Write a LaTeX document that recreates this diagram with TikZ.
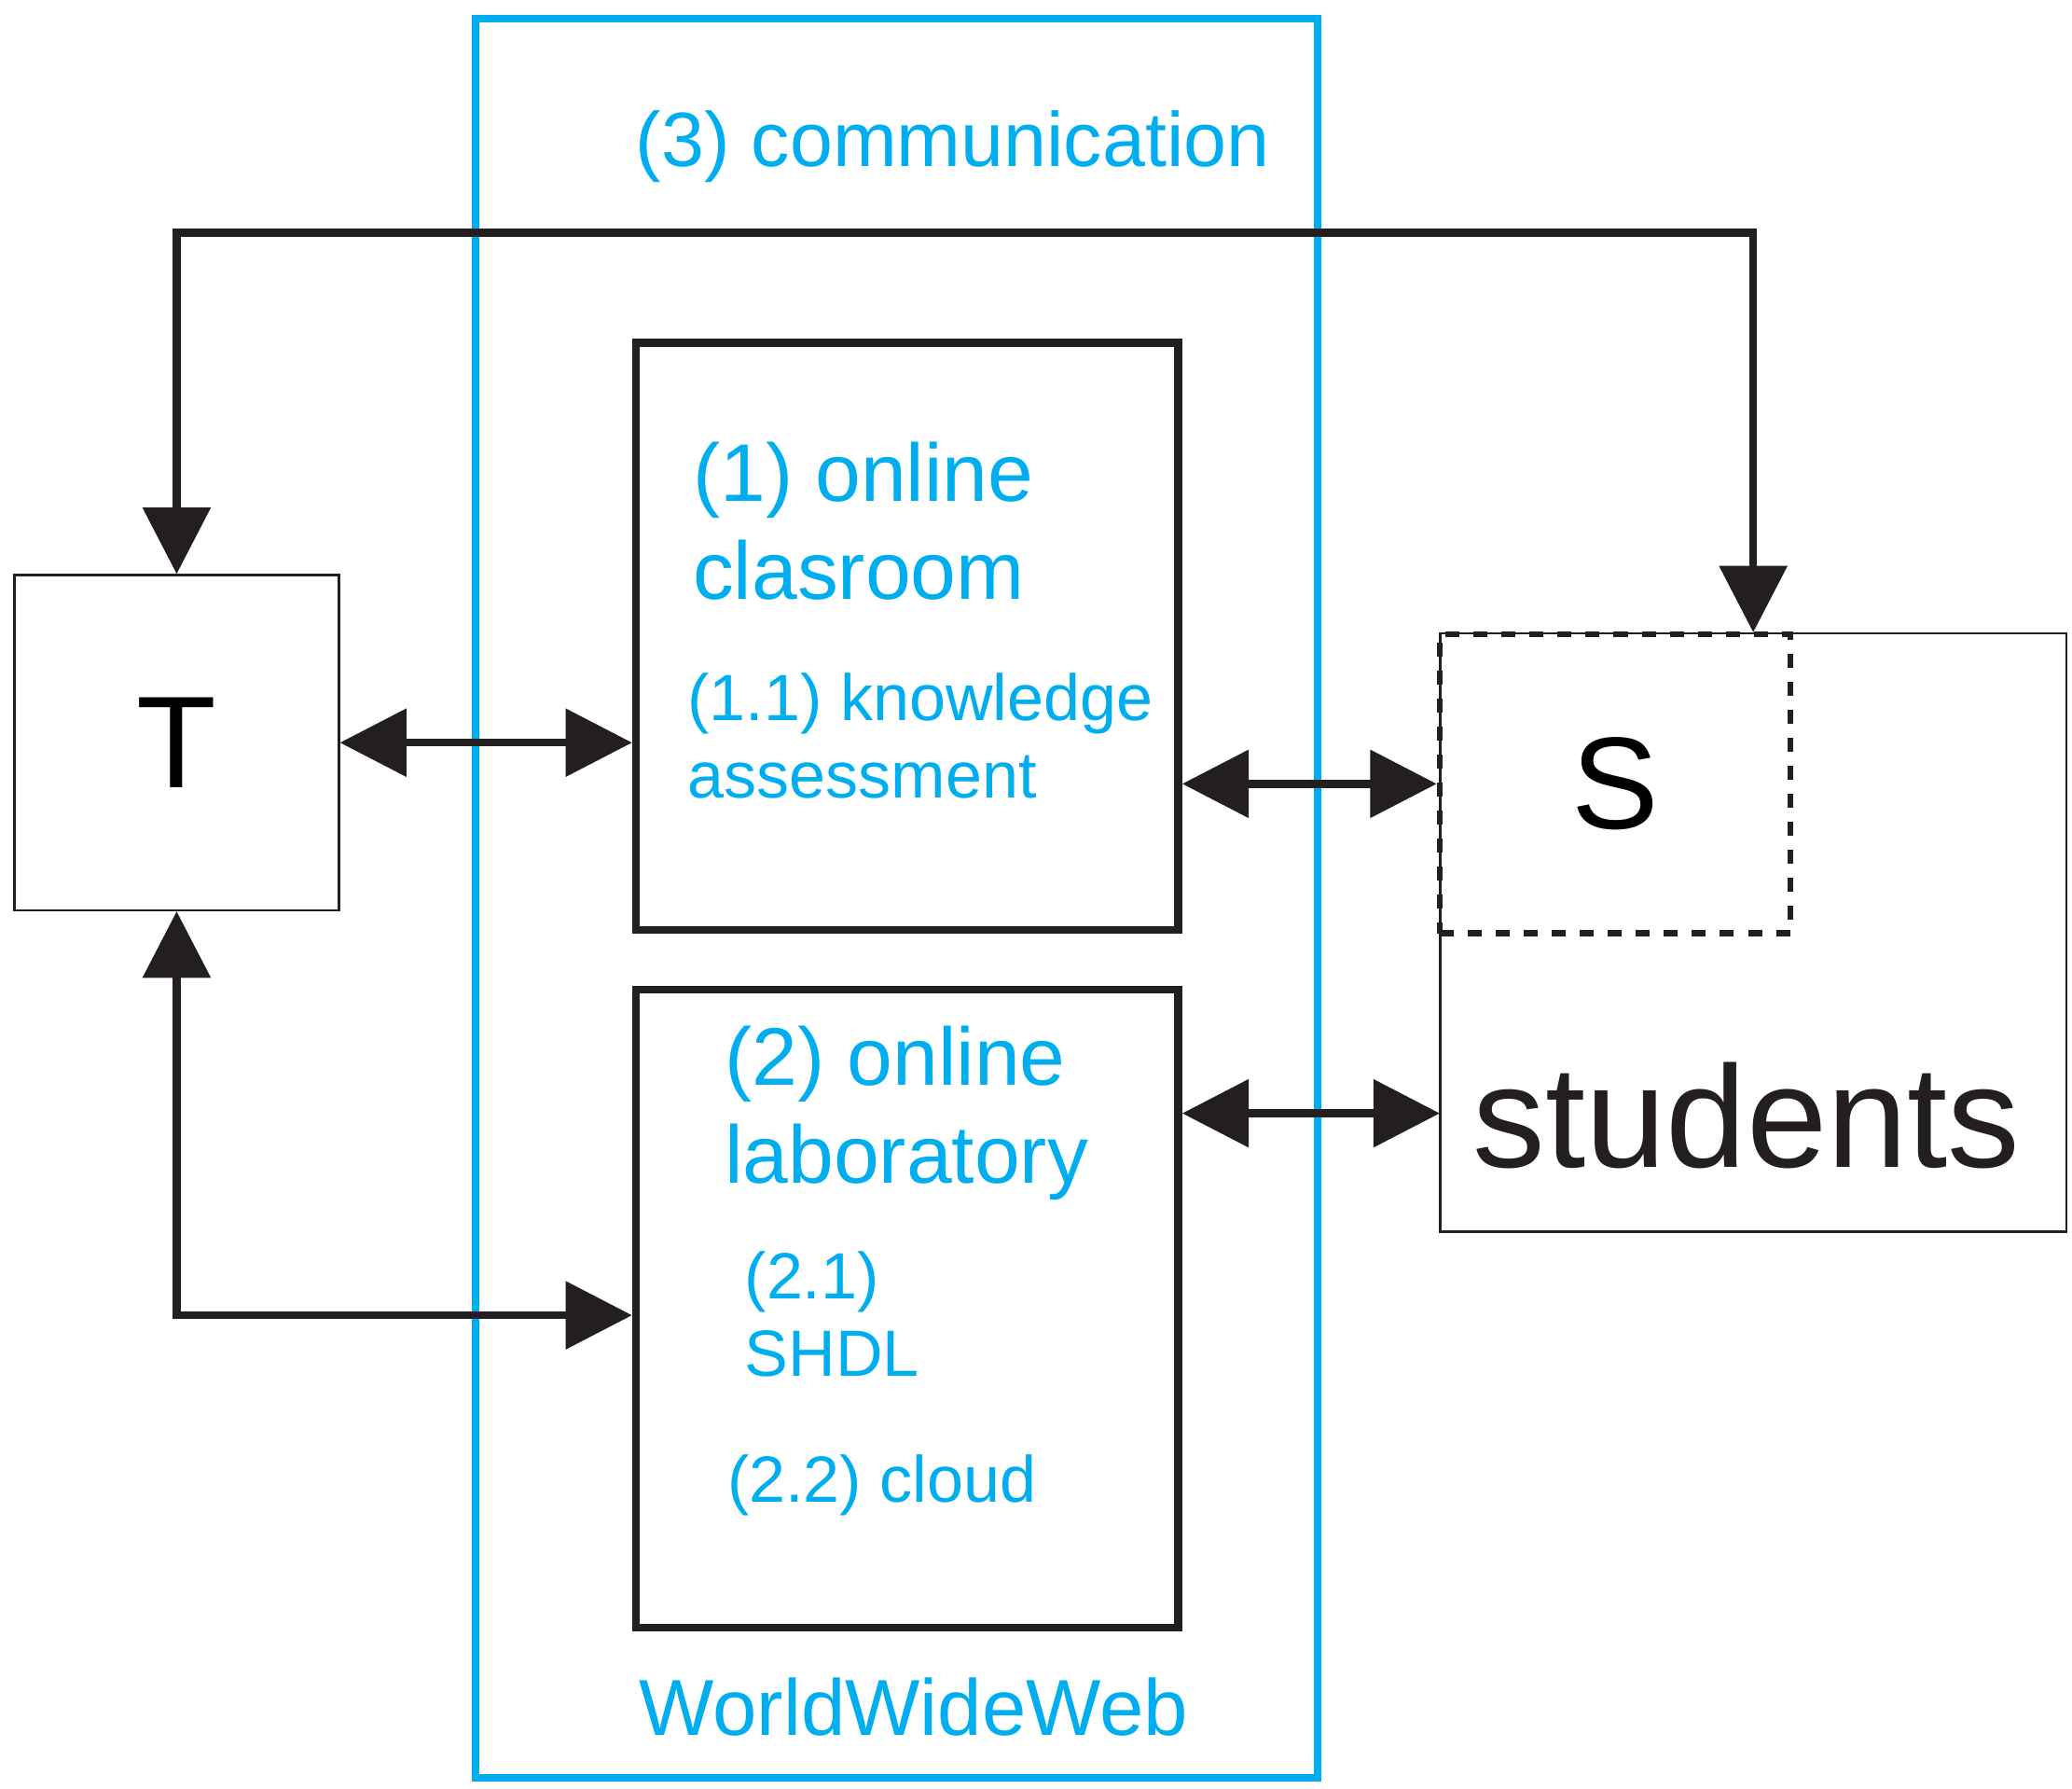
\documentclass[tikz,border=0pt]{standalone}
\usepackage{fontspec}
\setmainfont{Liberation Sans}
\usetikzlibrary{arrows.meta,calc}
\definecolor{webblue}{RGB}{0,174,239}
\definecolor{ink}{RGB}{35,31,32}
\tikzset{
  box/.style={draw=ink, line width=1.7pt, inner sep=0},
  thinbox/.style={draw=ink, line width=0.5pt, inner sep=0},
  link/.style={draw=ink, line width=1.7pt, {Triangle[length=5mm,width=5mm]}-{Triangle[length=5mm,width=5mm]}},
  btxt/.style={text=webblue, align=left, inner sep=0, anchor=west}
}
\begin{document}
\begin{tikzpicture}[x=0.01cm,y=-0.01cm]
\useasboundingbox (0,0) rectangle (1560,1346);

% world wide web frame
\draw[webblue, line width=1.7pt] (358,14) rectangle (992,1338);
\node[btxt, font=\fontsize{16.5pt}{20pt}\selectfont] (comm) at (478,110) {(3) communication};
\node[btxt, font=\fontsize{17pt}{20pt}\selectfont, anchor=center] (www) at (688,1285) {WorldWideWeb};

% boxes
\node[box, minimum width=4.08cm, minimum height=4.42cm] (b1) at (683,479) {};
\node[box, minimum width=4.08cm, minimum height=4.80cm] (b2) at (683,985) {};
\node[thinbox, minimum width=2.44cm, minimum height=2.52cm, font=\fontsize{28pt}{32pt}\selectfont] (T) at (133,559) {T};
\node[thinbox, minimum width=4.71cm, minimum height=4.50cm] (stu) at (1320,702) {};
\node[draw=ink, dashed, line width=1.3pt, minimum width=2.64cm, minimum height=2.25cm, inner sep=0, font=\fontsize{28pt}{32pt}\selectfont] (S) at (1216,590) {S};
\node[font=\fontsize{31pt}{34pt}\selectfont, text=ink] (stutxt) at (1315,840) {students};

% texts in boxes
\node[btxt, font=\fontsize{17.5pt}{21pt}\selectfont] (t1) at (521,392) {(1) online\\clasroom};
\node[btxt, font=\fontsize{14pt}{16.5pt}\selectfont] (t11) at (517,554) {(1.1) knowledge\\assessment};
\node[btxt, font=\fontsize{17.5pt}{21pt}\selectfont] (t2) at (545,838) {(2) online\\laboratory};
\node[btxt, font=\fontsize{14pt}{16.5pt}\selectfont] (t21) at (560,989) {(2.1)\\SHDL};
\node[btxt, font=\fontsize{14pt}{16.5pt}\selectfont] (t22) at (547,1118) {(2.2) cloud};

% connectors
\coordinate (top) at (700,175);
\coordinate (low) at (300,990);
\coordinate (mid) at (1084,838);
\draw[link] (stu.north) |- (top) -| (T.north);
\draw[link] (T.east) -- (b1.west |- T.east);
\draw[link] (b1.east |- S.west) -- (S.west);
\draw[link] (b2.east |- mid) -- (mid);
\draw[link] (T.south) |- (b2.west |- low);
\end{tikzpicture}
\end{document}
